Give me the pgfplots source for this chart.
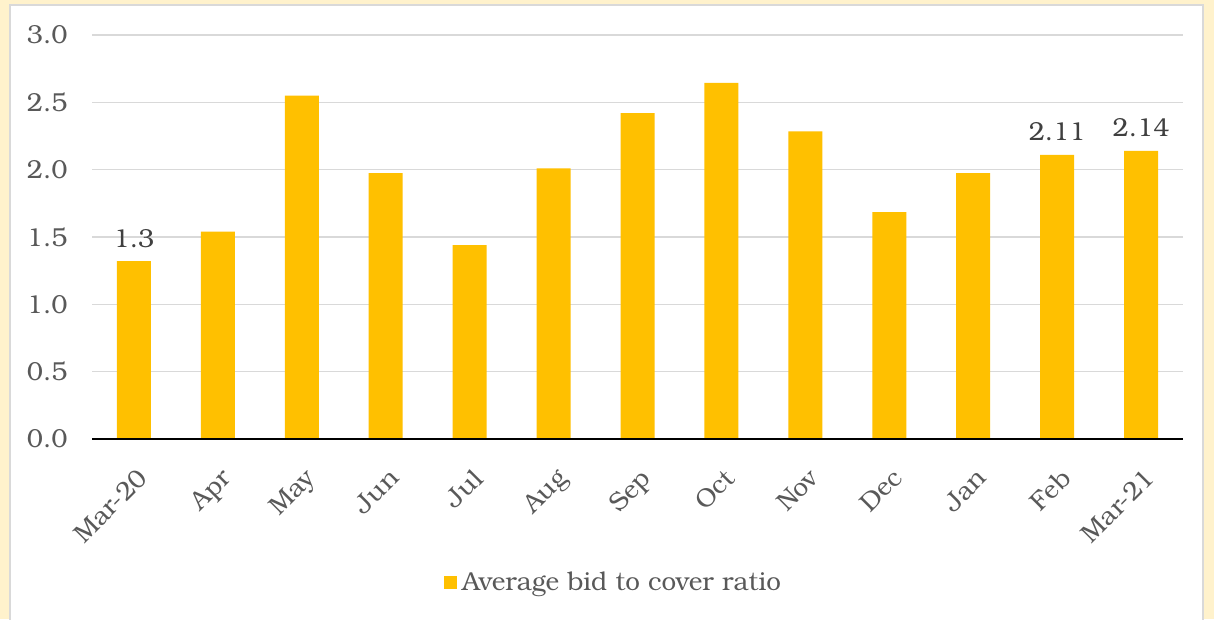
\documentclass[border=0pt]{standalone}
\usepackage{fontspec}
\setmainfont{TeX Gyre Bonum}
\usepackage{pgfplots}
\pgfplotsset{compat=1.18}
\definecolor{barc}{HTML}{FFC000}
\definecolor{cream}{HTML}{FFF2CC}
\definecolor{gridc}{HTML}{D9D9D9}
\definecolor{txt}{HTML}{595959}
\definecolor{lab}{HTML}{404040}
\newcommand{\chartfont}{\fontsize{26}{30}\selectfont}
\begin{document}
\begin{tikzpicture}[x=1pt,y=1pt]
% background: cream page with white panel
\path[use as bounding box] (-92,-180) rectangle (1122,439);
\clip (-92,-180) rectangle (1122,439);
\fill[cream] (-92,-180) rectangle (1122,439);
\draw[gridc, line width=2pt, fill=white] (-82,-200) rectangle (1111,434);
\begin{axis}[
    at={(0,0)}, anchor=south west,
    scale only axis, width=1091pt, height=404pt,
    xmin=-0.5, xmax=12.5, ymin=0, ymax=3,
    axis x line*=bottom, axis y line*=left,
    y axis line style={draw=none},
    x axis line style={draw=none},
    major tick length=0pt,
    xtick={0,...,12},
    xticklabels={Mar-20,Apr,May,Jun,Jul,Aug,Sep,Oct,Nov,Dec,Jan,Feb,Mar-21},
    xticklabel style={rotate=45, anchor=north east, font=\chartfont, text=txt, yshift=-18pt, xshift=-15pt},
    ytick={0,0.5,...,3},
    yticklabel style={font=\chartfont, text=txt, xshift=-21pt},
    /pgf/number format/.cd, fixed, fixed zerofill, precision=1, assume math mode=true, /pgfplots/.cd,
    ymajorgrids, grid style={gridc, line width=1.3pt},
    legend style={at={(0.478,-0.354)}, anchor=center, draw=none, fill=none,
        font=\chartfont, text=txt},
    legend image code/.code={\fill[barc] (0pt,-6.5pt) rectangle (13pt,6.5pt); \path (16pt,0pt);},
]
\addplot[ybar, bar width=34pt, fill=barc, draw=none,
    nodes near coords, point meta=explicit symbolic,
    nodes near coords style={font=\chartfont, text=lab, yshift=10pt}]
    table[meta=lab] {
x y lab
0 1.32 1.3
1 1.54 {}
2 2.55 {}
3 1.975 {}
4 1.44 {}
5 2.01 {}
6 2.42 {}
7 2.645 {}
8 2.285 {}
9 1.685 {}
10 1.975 {}
11 2.11 2.11
12 2.14 2.14
};
\addlegendentry{Average bid to cover ratio}
\draw[black, line width=1.6pt] (axis cs:-0.5,0) -- (axis cs:12.5,0);
\end{axis}
\end{tikzpicture}
\end{document}
